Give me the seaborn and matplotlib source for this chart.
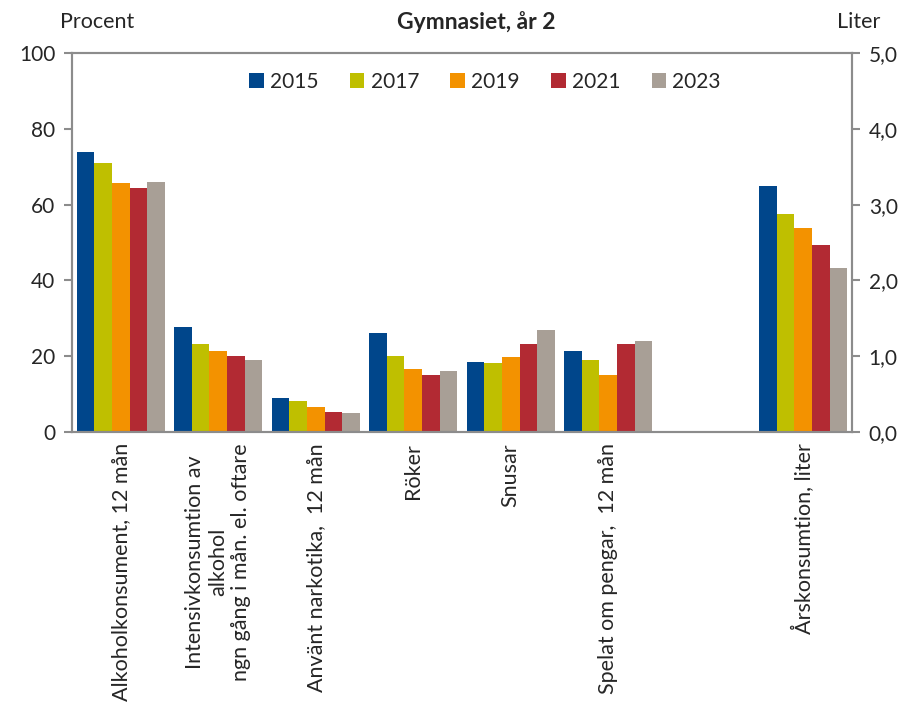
import pandas as pd
import matplotlib.pyplot as plt
import seaborn as sns
from matplotlib.ticker import FuncFormatter

# Data (Gymnasiet, år 2)
years = ["2015", "2017", "2019", "2021", "2023"]
colors = ["#00468B", "#BFBF00", "#F39200", "#B22A33", "#A89F96"]

categories = [
    "Alkoholkonsument, 12 mån",
    "Intensivkonsumtion av\nalkohol\nngn gång i mån. el. oftare",
    "Använt narkotika,  12 mån",
    "Röker",
    "Snusar",
    "Spelat om pengar,  12 mån",
    " ",
    "Årskonsumtion, liter",
]

# Procent (left axis)
alkohol = [73.8, 71.0, 65.7, 64.5, 66.0]
intensiv = [27.8, 23.1, 21.3, 20.1, 19.1]
narkotika = [8.9, 8.1, 6.7, 5.2, 5.0]
roker = [26.1, 20.1, 16.6, 15.1, 16.1]
snusar = [18.6, 18.3, 19.7, 23.1, 26.9]
spelat = [21.3, 19.1, 15.0, 23.3, 23.9]

# Liter (right axis)
arskonsumtion = [3.25, 2.88, 2.69, 2.47, 2.16]

pct_series = [alkohol, intensiv, narkotika, roker, snusar, spelat]
rows = []
for cat, vals in zip(categories[:6], pct_series):
    for yr, v in zip(years, vals):
        rows.append({"kategori": cat, "år": yr, "värde": v})
df_pct = pd.DataFrame(rows)
df_lit = pd.DataFrame({"kategori": categories[7], "år": years, "värde": arskonsumtion})

sns.set_style("white")
plt.rcParams["font.family"] = ["Lato", "DejaVu Sans"]

fig = plt.figure(figsize=(9.08, 7.08), dpi=100)
ax = fig.add_axes([72 / 908, 1 - 432 / 708, 780 / 908, 379 / 708])

sns.barplot(data=df_pct, x="kategori", y="värde", hue="år", order=categories,
            hue_order=years, palette=colors, saturation=1, width=0.9, gap=0,
            linewidth=0, ax=ax)
handles, labels = ax.get_legend_handles_labels()
ax.get_legend().remove()

ax2 = ax.twinx()
sns.barplot(data=df_lit, x="kategori", y="värde", hue="år", order=categories,
            hue_order=years, palette=colors, saturation=1, width=0.9, gap=0,
            linewidth=0, ax=ax2, legend=False)

ax.set_xlim(-0.5, 7.5)
ax.set_ylim(0, 100)
ax2.set_ylim(0, 5)
ax.set_yticks(range(0, 101, 20))
ax2.set_yticks([0, 1, 2, 3, 4, 5])
ax2.yaxis.set_major_formatter(FuncFormatter(lambda v, p: f"{v:.1f}".replace(".", ",")))
ax.set_xlabel("")
ax.set_ylabel("")
ax2.set_xlabel("")
ax2.set_ylabel("")

grey = "#8C8C8C"
for a in (ax, ax2):
    for s in a.spines.values():
        s.set_color(grey)
        s.set_linewidth(1.5)
ax.tick_params(axis="y", left=True, length=6, width=1.5, color=grey,
               labelsize=15, pad=6)
ax2.tick_params(axis="y", right=True, length=6, width=1.5, color=grey,
                labelsize=15, pad=6)
ax.tick_params(axis="x", bottom=False, length=0, labelsize=15.5, pad=8)
for lab in ax.get_xticklabels():
    lab.set_rotation(90)
    lab.set_ha("center")
    lab.set_va("top")
    lab.set_multialignment("center")

fig.text(60 / 908, 1 - 22 / 708, "Procent", fontsize=15.5, ha="left", va="center")
fig.text(880 / 908, 1 - 22 / 708, "Liter", fontsize=15.5, ha="right", va="center")
fig.text(476 / 908, 1 - 22 / 708, "Gymnasiet, år 2", fontsize=16.5,
         fontweight="bold", ha="center", va="center")

fig.legend(handles, labels, ncol=5, loc="center",
           bbox_to_anchor=(485 / 908, 1 - 82 / 708), frameon=False,
           fontsize=15, handlelength=0.7, handleheight=0.7,
           handletextpad=0.3, columnspacing=1.5)

fig.savefig("out.png", dpi=100)
